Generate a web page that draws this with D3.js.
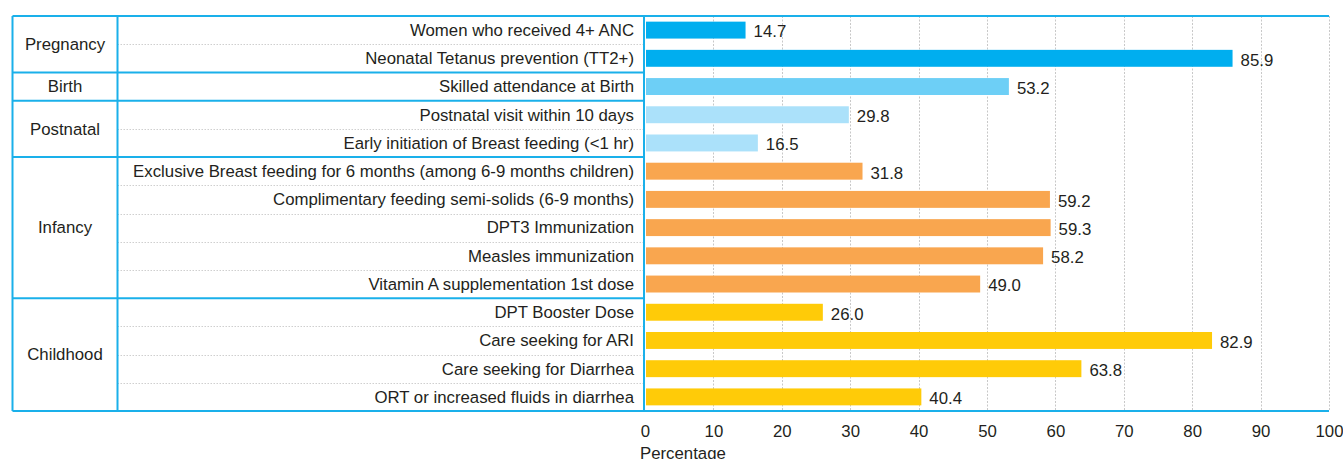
<!DOCTYPE html>
<html>
<head>
<meta charset="utf-8">
<script src="https://cdn.jsdelivr.net/npm/d3@7"></script>
<style>
  body { margin: 0; background: #fff; }
  text { font-family: "Liberation Sans", Arial, sans-serif; fill: #231f20; }
</style>
</head>
<body>
<div class="chart"></div>
<script>
var groups = ["Pregnancy", "Birth", "Postnatal", "Infancy", "Childhood"];
var groupSizes = [2, 1, 2, 5, 4];
var groupColors = ["#00aeef", "#6dcff6", "#abe1fa", "#f9a64f", "#ffcb08"];
var labels = [
  "Women who received 4+ ANC",
  "Neonatal Tetanus prevention (TT2+)",
  "Skilled attendance at Birth",
  "Postnatal visit within 10 days",
  "Early initiation of Breast feeding (<1 hr)",
  "Exclusive Breast feeding for 6 months (among 6-9 months children)",
  "Complimentary feeding semi-solids (6-9 months)",
  "DPT3 Immunization",
  "Measles immunization",
  "Vitamin A supplementation 1st dose",
  "DPT Booster Dose",
  "Care seeking for ARI",
  "Care seeking for Diarrhea",
  "ORT or increased fluids in diarrhea"
];
var values = [14.7, 85.9, 53.2, 29.8, 16.5, 31.8, 59.2, 59.3, 58.2, 49.0, 26.0, 82.9, 63.8, 40.4];
var xTicks = [0, 10, 20, 30, 40, 50, 60, 70, 80, 90, 100];

var width = 1343, height = 459;
var boxLeft = 12.5, boxMid = 117.5, plotLeft = 645, plotRight = 1329;
var plotTop = 16, plotBottom = 411;
var blue = "#1ab0ea";
var fs = "16.8px";

// which group each row belongs to
var rowGroup = [];
groupSizes.forEach(function(n, g){
  for (var i = 0; i < n; i++) rowGroup.push(g);
});

var svg = d3.select(".chart").append("svg")
  .attr("width", width)
  .attr("height", height);

var x = d3.scaleLinear().domain([0, 100]).range([plotLeft, plotRight]);
var y = d3.scaleBand().domain(d3.range(labels.length)).range([plotTop, plotBottom]).paddingInner(0).paddingOuter(0);
var barH = y.bandwidth() * 0.6;

// vertical dashed gridlines
svg.append("g").selectAll("line")
  .data(xTicks.slice(1))
  .enter().append("line")
  .attr("x1", function(d){ return Math.round(x(d)) + 0.5; })
  .attr("x2", function(d){ return Math.round(x(d)) + 0.5; })
  .attr("y1", plotTop)
  .attr("y2", plotBottom)
  .style("stroke", "#c8c8c8")
  .style("stroke-dasharray", "2,1.5")
  .style("stroke-width", 1);

// dotted separators between rows inside a group
var seps = [];
for (var i = 1; i < labels.length; i++) {
  if (rowGroup[i] === rowGroup[i - 1]) seps.push(i);
}
svg.append("g").selectAll("line")
  .data(seps)
  .enter().append("line")
  .attr("x1", boxMid)
  .attr("x2", plotLeft)
  .attr("y1", function(d){ return Math.round(y(d)) + 0.5; })
  .attr("y2", function(d){ return Math.round(y(d)) + 0.5; })
  .style("stroke", "#cfcfcf")
  .style("stroke-dasharray", "1.5,1.5");

// bars
svg.append("g").selectAll("rect")
  .data(values)
  .enter().append("rect")
  .attr("x", x(0) + 1)
  .attr("y", function(d, i){ return y(i) + (y.bandwidth() - barH) / 2; })
  .attr("width", function(d){ return x(d) - x(0) - 1; })
  .attr("height", barH)
  .style("fill", function(d, i){ return groupColors[rowGroup[i]]; });

// value labels
svg.append("g").selectAll("text")
  .data(values)
  .enter().append("text")
  .attr("x", function(d){ return x(d) + 8; })
  .attr("y", function(d, i){ return y(i) + y.bandwidth() / 2 + 1.5; })
  .attr("dy", "0.35em")
  .style("font-size", fs)
  .text(function(d){ return d.toFixed(1); });

// row labels
svg.append("g").selectAll("text")
  .data(labels)
  .enter().append("text")
  .attr("x", plotLeft - 11)
  .attr("y", function(d, i){ return y(i) + y.bandwidth() / 2; })
  .attr("dy", "0.35em")
  .attr("text-anchor", "end")
  .style("font-size", fs)
  .text(function(d){ return d; });

// group boxes and labels
var start = 0;
var groupData = groups.map(function(g, k){
  var s = start;
  start += groupSizes[k];
  return { name: g, first: s, last: start };
});

var gl = svg.append("g");
groupData.forEach(function(g, k){
  var y0 = y(g.first), y1 = g.last < labels.length ? y(g.last) : plotBottom;
  gl.append("text")
    .attr("x", (boxLeft + boxMid) / 2)
    .attr("y", (y0 + y1) / 2)
    .attr("dy", "0.35em")
    .attr("text-anchor", "middle")
    .style("font-size", fs)
    .text(g.name);
  if (k > 0) {
    gl.append("line")
      .attr("x1", boxLeft).attr("x2", plotLeft)
      .attr("y1", y0).attr("y2", y0)
      .style("stroke", blue).style("stroke-width", 2);
  }
});

// table frame
var frame = svg.append("g").style("stroke", blue).style("stroke-width", 2).style("fill", "none");
frame.append("line").attr("x1", boxLeft).attr("x2", plotRight).attr("y1", plotTop).attr("y2", plotTop);
frame.append("line").attr("x1", boxLeft).attr("x2", plotRight).attr("y1", plotBottom).attr("y2", plotBottom);
frame.append("line").attr("x1", boxLeft).attr("x2", boxLeft).attr("y1", plotTop).attr("y2", plotBottom);
frame.append("line").attr("x1", boxMid).attr("x2", boxMid).attr("y1", plotTop).attr("y2", plotBottom);
frame.append("line").attr("x1", plotLeft - 1).attr("x2", plotLeft - 1).attr("y1", plotTop).attr("y2", plotBottom);

// x axis
var axis = svg.append("g")
  .attr("transform", "translate(0," + (plotBottom + 8) + ")")
  .call(d3.axisBottom(x).tickValues(xTicks).tickSize(0).tickPadding(6));
axis.select(".domain").remove();
axis.selectAll("text")
  .style("font-size", fs)
  .style("font-family", "'Liberation Sans', Arial, sans-serif")
  .style("fill", "#231f20");

svg.append("text")
  .attr("x", plotLeft - 5)
  .attr("y", 459)
  .style("font-size", fs)
  .text("Percentage");
</script>
</body>
</html>
